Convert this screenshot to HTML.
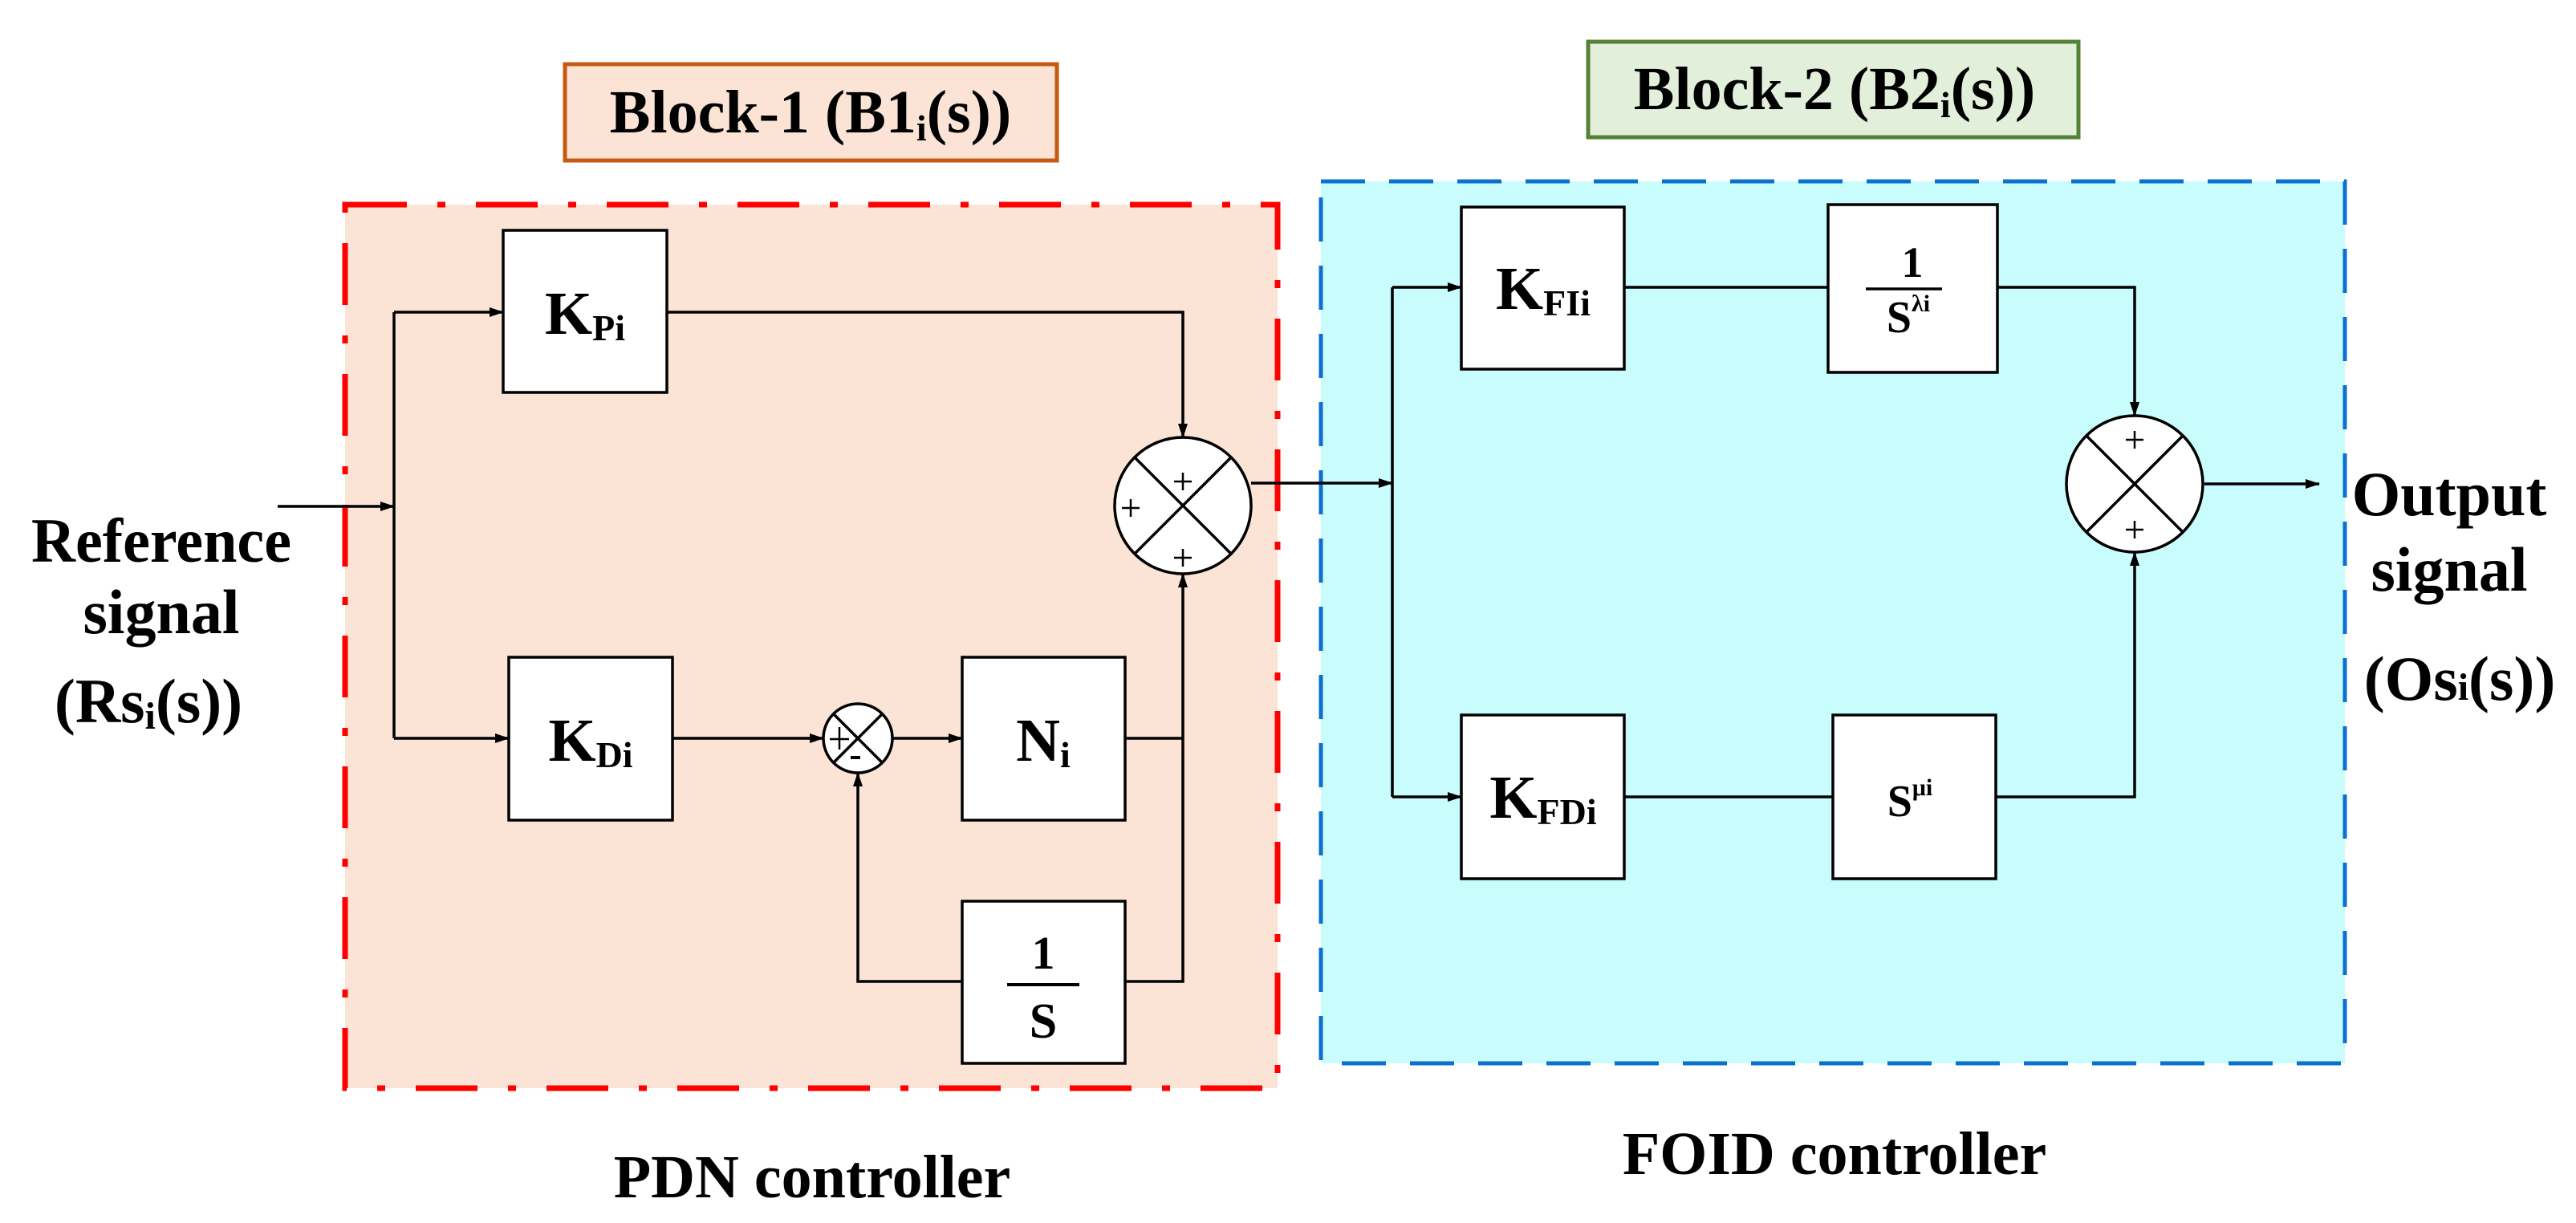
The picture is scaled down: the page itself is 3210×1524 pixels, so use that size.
<!DOCTYPE html>
<html><head><meta charset="utf-8"><style>
html,body{margin:0;padding:0;background:#fff;}
svg{display:block;}
svg text{font-family:"Liberation Serif","DejaVu Serif",serif !important;font-weight:bold;fill:#000;}
</style></head><body>
<svg width="3210" height="1524" viewBox="0 0 3210 1524" xmlns="http://www.w3.org/2000/svg" font-family="Liberation Serif, DejaVu Serif, serif" font-weight="bold">
<defs>
<marker id="ar" markerWidth="18" markerHeight="12" refX="17" refY="6" orient="auto" markerUnits="userSpaceOnUse">
<path d="M0,0 L18,6 L0,12 z" fill="#000"/>
</marker>
</defs>

<rect x="430" y="255" width="1162" height="1101" fill="#fbe4d5" stroke="#ff0000" stroke-width="7" stroke-dasharray="77 38 10 38"/>
<rect x="1646" y="226" width="1276" height="1099" fill="#c8fcfd" stroke="#0b70d0" stroke-width="5" stroke-dasharray="55 30"/>

<rect x="704" y="80" width="613" height="120" fill="#fbe4d5" stroke="#c55a11" stroke-width="5"/>
<text x="1010" y="165" font-size="76" text-anchor="middle">Block-1 (B1<tspan font-size="46" dy="10">i</tspan><tspan dy="-10">(s))</tspan></text>
<rect x="1979" y="52" width="611" height="119" fill="#e2efda" stroke="#548235" stroke-width="5"/>
<text x="2286" y="136" font-size="76" text-anchor="middle">Block-2 (B2<tspan font-size="46" dy="10">i</tspan><tspan dy="-10">(s))</tspan></text>

<g stroke="#000" stroke-width="3.5" fill="none">
<line x1="346" y1="631" x2="491" y2="631" marker-end="url(#ar)"/>
<polyline points="491,389 491,920"/>
<line x1="491" y1="389" x2="627" y2="389" marker-end="url(#ar)"/>
<line x1="491" y1="920" x2="634" y2="920" marker-end="url(#ar)"/>
<polyline points="831,389 1474,389 1474,545" marker-end="url(#ar)"/>
<line x1="838" y1="920" x2="1026" y2="920" marker-end="url(#ar)"/>
<line x1="1112" y1="920" x2="1199" y2="920" marker-end="url(#ar)"/>
<polyline points="1402,920 1474,920"/>
<polyline points="1402,1223 1474,1223 1474,715" marker-end="url(#ar)"/>
<polyline points="1199,1223 1069,1223 1069,963" marker-end="url(#ar)"/>
<line x1="1559" y1="602" x2="1735" y2="602" marker-end="url(#ar)"/>
<polyline points="1735,358 1735,993"/>
<line x1="1735" y1="358" x2="1821" y2="358" marker-end="url(#ar)"/>
<line x1="1735" y1="993" x2="1821" y2="993" marker-end="url(#ar)"/>
<line x1="2024" y1="358" x2="2278" y2="358"/>
<line x1="2024" y1="993" x2="2284" y2="993"/>
<polyline points="2489,358 2660,358 2660,518" marker-end="url(#ar)"/>
<polyline points="2487,993 2660,993 2660,688" marker-end="url(#ar)"/>
<line x1="2747" y1="603" x2="2890" y2="603" marker-end="url(#ar)"/>
</g>

<g fill="#fff" stroke="#000" stroke-width="3.5">
<rect x="627" y="287" width="204" height="202"/>
<rect x="634" y="819" width="204" height="203"/>
<rect x="1199" y="819" width="203" height="203"/>
<rect x="1199" y="1123" width="203" height="202"/>
<rect x="1821" y="258" width="203" height="202"/>
<rect x="2278" y="255" width="211" height="209"/>
<rect x="1821" y="891" width="203" height="204"/>
<rect x="2284" y="891" width="203" height="204"/>
<circle cx="1474" cy="630" r="85"/>
<circle cx="1069" cy="920" r="43"/>
<circle cx="2660" cy="603" r="85"/>
</g>
<g stroke="#000" stroke-width="3.5">
<line x1="1414" y1="570" x2="1534" y2="690"/><line x1="1534" y1="570" x2="1414" y2="690"/>
<line x1="1039" y1="890" x2="1099" y2="950"/><line x1="1099" y1="890" x2="1039" y2="950"/>
<line x1="2600" y1="543" x2="2720" y2="663"/><line x1="2720" y1="543" x2="2600" y2="663"/>
</g>
<g stroke="#000" stroke-width="2.5">
<line x1="1463" y1="600" x2="1485" y2="600"/><line x1="1474" y1="589" x2="1474" y2="611"/>
<line x1="1398" y1="633" x2="1420" y2="633"/><line x1="1409" y1="622" x2="1409" y2="644"/>
<line x1="1463" y1="695" x2="1485" y2="695"/><line x1="1474" y1="684" x2="1474" y2="706"/>
<line x1="1034" y1="921" x2="1058" y2="921"/><line x1="1046" y1="906" x2="1046" y2="934"/>
<line x1="1060" y1="944" x2="1072" y2="944" stroke-width="4"/>
<line x1="2649" y1="548" x2="2671" y2="548"/><line x1="2660" y1="537" x2="2660" y2="559"/>
<line x1="2649" y1="660" x2="2671" y2="660"/><line x1="2660" y1="649" x2="2660" y2="671"/>
</g>

<text x="729" y="416" font-size="76" text-anchor="middle">K<tspan font-size="46" dy="8">Pi</tspan></text>
<text x="736" y="948" font-size="76" text-anchor="middle">K<tspan font-size="46" dy="8">Di</tspan></text>
<text x="1300" y="948" font-size="76" text-anchor="middle">N<tspan font-size="46" dy="8">i</tspan></text>
<text x="1300" y="1207" font-size="58" text-anchor="middle">1</text>
<line x1="1255" y1="1227" x2="1345" y2="1227" stroke="#000" stroke-width="4"/>
<text x="1300" y="1293" font-size="62" text-anchor="middle">S</text>
<text x="1923" y="385" font-size="76" text-anchor="middle">K<tspan font-size="46" dy="8">FIi</tspan></text>
<text x="1923" y="1019" font-size="76" text-anchor="middle">K<tspan font-size="46" dy="8">FDi</tspan></text>
<text x="2383" y="345" font-size="54" text-anchor="middle">1</text>
<line x1="2325" y1="360" x2="2420" y2="360" stroke="#000" stroke-width="3.5"/>
<text x="2378" y="414" font-size="56" text-anchor="middle">S<tspan font-size="30" dy="-26">λi</tspan></text>
<text x="2380" y="1017" font-size="56" text-anchor="middle">S<tspan font-size="30" dy="-26">μi</tspan></text>

<text x="201" y="700" font-size="78" text-anchor="middle" textLength="324" lengthAdjust="spacingAndGlyphs">Reference</text>
<text x="201" y="789" font-size="78" text-anchor="middle">signal</text>
<text x="185" y="900" font-size="78" text-anchor="middle">(Rs<tspan font-size="48" dy="8">i</tspan><tspan dy="-8">(s))</tspan></text>
<text x="3052" y="642" font-size="78" text-anchor="middle">Output</text>
<text x="3052" y="736" font-size="78" text-anchor="middle">signal</text>
<text x="3065" y="872" font-size="78" text-anchor="middle">(Os<tspan font-size="48">i</tspan>(s))</text>
<text x="1012" y="1492" font-size="76" text-anchor="middle">PDN controller</text>
<text x="2286" y="1463" font-size="76" text-anchor="middle">FOID controller</text>
</svg>
</body></html>
